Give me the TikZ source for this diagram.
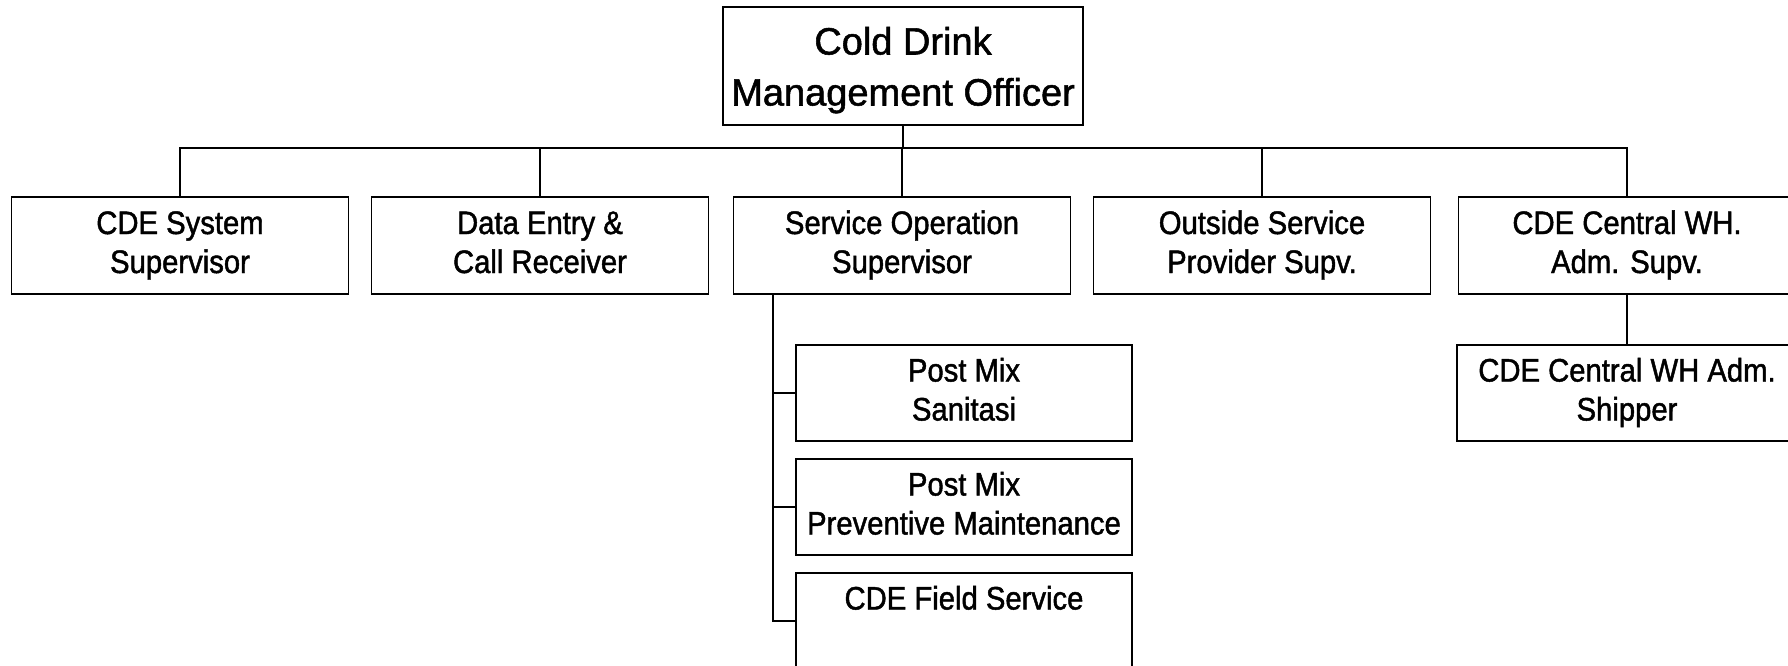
\documentclass[tikz,border=0pt]{standalone}
\usepackage{fontspec}
\setmainfont{Liberation Sans}
\newfontfamily\boxfont[FakeStretch=0.9, FakeBold=1.4]{Liberation Sans}
\newfontfamily\headfont[FakeBold=1.4]{Liberation Sans}
% struts that fix the first and last baselines of the two-line labels
\newcommand\topstrut{\rule{0pt}{27.5pt}}
\newcommand\botstrut{\rule[-11.5pt]{0pt}{11.5pt}}
\newcommand\headtop{\rule{0pt}{39pt}}
\newcommand\headbot{\rule[-11pt]{0pt}{11pt}}
\tikzset{
  orgbox/.style={draw, line width=1.6pt, minimum width=337pt, minimum height=97pt,
    inner sep=0pt, align=center, font=\boxfont\fontsize{32.5}{39}\selectfont},
  headbox/.style={draw, line width=1.6pt, minimum width=360pt, minimum height=118pt,
    inner sep=0pt, align=center, font=\headfont\fontsize{38}{51}\selectfont},
  link/.style={line width=1.6pt}
}
\begin{document}
\begin{tikzpicture}[x=1pt, y=-1pt]
  \useasboundingbox (0,0) rectangle (1788,666);
  \clip (0,0) rectangle (1788,666);

  % head of the department
  \node[headbox] (head) at (903,66) {\headtop Cold Drink\\Management Officer\headbot};

  % second level
  \node[orgbox] (sys)  at (180,245.5)  {\topstrut CDE System\\Supervisor\botstrut};
  \node[orgbox] (data) at (540,245.5)  {\topstrut Data Entry \&\\Call Receiver\botstrut};
  \node[orgbox] (ops)  at (902,245.5)  {\topstrut Service Operation\\Supervisor\botstrut};
  \node[orgbox] (out)  at (1262,245.5) {\topstrut Outside Service\\Provider Supv.\botstrut};
  \node[orgbox] (wh)   at (1627,245.5) {\topstrut CDE Central WH.\\Adm. Supv.\botstrut};

  % staff under service operation
  \node[orgbox, minimum width=336pt, minimum height=96pt] (san) at (964,393) {\topstrut Post Mix\\Sanitasi\botstrut};
  \node[orgbox, minimum width=336pt, minimum height=96pt] (pm)  at (964,507) {\topstrut Post Mix\\Preventive Maintenance\botstrut};
  \node[orgbox, minimum width=336pt, minimum height=96pt] (fs)  at (964,621) {\topstrut CDE Field Service\\\botstrut};

  % staff under central warehouse
  \node[orgbox, minimum width=340pt, minimum height=96pt] (ship) at (1627,393) {\topstrut CDE Central WH Adm.\\Shipper\botstrut};

  % bus from the head to the second level
  \coordinate (bus) at (903,148);
  \draw[link] (head.south) -- (bus);
  \draw[link] (sys.north) |- (bus);
  \draw[link] (wh.north) |- (bus);
  \draw[link] (data.north) -- (data.north |- bus);
  \draw[link] (ops.north) -- (ops.north |- bus);
  \draw[link] (out.north) -- (out.north |- bus);

  % service operation branch
  \coordinate (opsdrop) at (773,294);
  \draw[link] (opsdrop) |- (fs.west);
  \draw[link] (opsdrop |- san.west) -- (san.west);
  \draw[link] (opsdrop |- pm.west) -- (pm.west);

  % warehouse branch
  \draw[link] (wh.south) -- (ship.north);
\end{tikzpicture}
\end{document}
